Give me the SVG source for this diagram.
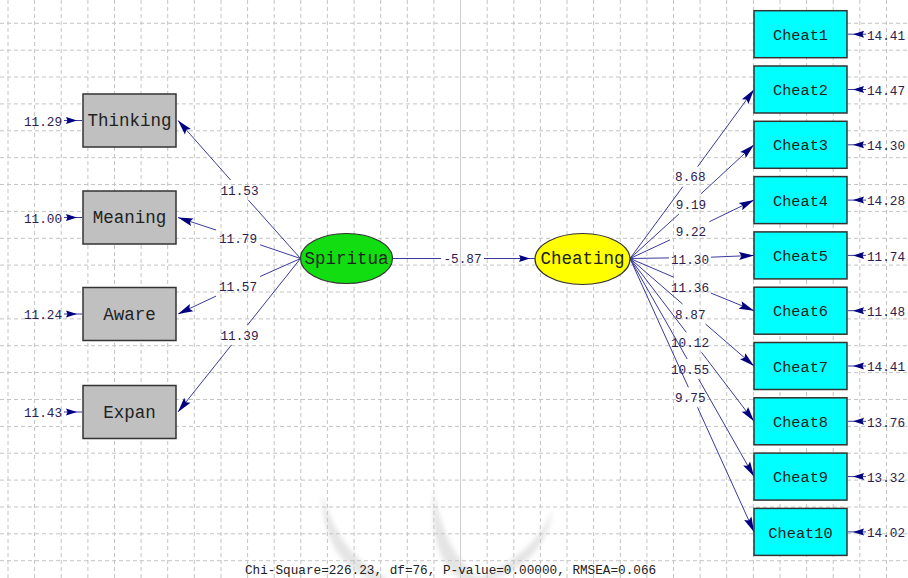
<svg xmlns="http://www.w3.org/2000/svg" width="908" height="578" viewBox="0 0 908 578">
<style>
.grid line{stroke:#c4c4c4;stroke-width:1;stroke-dasharray:4 3}
.grid line.solid{stroke-dasharray:none;stroke:#cfcfcf}
.obs rect{stroke:#333;stroke-width:1.5}
.left rect{fill:#c0c0c0}
.right rect{fill:#00ffff}
.lat ellipse{stroke:#333;stroke-width:1.2}
.nl{font-family:"Liberation Mono","Courier New",monospace;fill:#222;text-anchor:middle}
.big{font-size:17.5px}
.small{font-size:15.3px}
.num{font-family:"Liberation Mono","Courier New",monospace;font-size:12.7px;fill:#2c2050}
.conn line,.conn path{stroke:#3a3a9e;stroke-width:1;fill:none}
</style>
<defs>
<marker id="ah" markerUnits="userSpaceOnUse" markerWidth="16" markerHeight="10" refX="15" refY="4" orient="auto" overflow="visible">
<path d="M0,0 L15,4 L0,8 L2.5,4 Z" fill="#000080"/>
</marker>
<marker id="as" markerUnits="userSpaceOnUse" markerWidth="20" markerHeight="10" refX="16" refY="3.5" orient="auto" overflow="visible">
<path d="M0,0 L11,3.5 L0,7 L1.5,3.5 Z" fill="#000080"/>
</marker>
<filter id="blur" x="-20%" y="-20%" width="140%" height="140%"><feGaussianBlur stdDeviation="2.5"/></filter>
</defs>
<rect width="908" height="578" fill="#ffffff"/>
<g id="watermark" fill="#d9d9d9" opacity="0.7" filter="url(#blur)">
<path d="M322,493 Q323,560 372,580 L390,580 Q338,555 322,493 Z"/>
<path d="M434,490 Q428,560 462,580 L482,580 Q444,555 434,490 Z"/>
<path d="M553,508 Q546,562 490,580 L472,580 Q536,555 553,508 Z"/>
</g>
<g class="grid">
<line x1="8" y1="0" x2="8" y2="578"/><line x1="34.6" y1="0" x2="34.6" y2="578"/><line x1="61.2" y1="0" x2="61.2" y2="578"/><line x1="87.9" y1="0" x2="87.9" y2="578"/><line x1="114.5" y1="0" x2="114.5" y2="578"/><line x1="141.1" y1="0" x2="141.1" y2="578"/><line x1="167.7" y1="0" x2="167.7" y2="578"/><line x1="194.3" y1="0" x2="194.3" y2="578"/><line x1="221" y1="0" x2="221" y2="578"/><line x1="247.6" y1="0" x2="247.6" y2="578"/><line x1="274.2" y1="0" x2="274.2" y2="578"/><line x1="300.8" y1="0" x2="300.8" y2="578"/><line x1="327.4" y1="0" x2="327.4" y2="578"/><line x1="354.1" y1="0" x2="354.1" y2="578"/><line x1="380.7" y1="0" x2="380.7" y2="578"/><line x1="407.3" y1="0" x2="407.3" y2="578"/><line x1="433.9" y1="0" x2="433.9" y2="578"/><line class="solid" x1="460.5" y1="0" x2="460.5" y2="578"/><line x1="487.2" y1="0" x2="487.2" y2="578"/><line x1="513.8" y1="0" x2="513.8" y2="578"/><line x1="540.4" y1="0" x2="540.4" y2="578"/><line x1="567" y1="0" x2="567" y2="578"/><line x1="593.6" y1="0" x2="593.6" y2="578"/><line x1="620.3" y1="0" x2="620.3" y2="578"/><line x1="646.9" y1="0" x2="646.9" y2="578"/><line x1="673.5" y1="0" x2="673.5" y2="578"/><line x1="700.1" y1="0" x2="700.1" y2="578"/><line x1="726.7" y1="0" x2="726.7" y2="578"/><line x1="753.4" y1="0" x2="753.4" y2="578"/><line x1="780" y1="0" x2="780" y2="578"/><line x1="806.6" y1="0" x2="806.6" y2="578"/><line x1="833.2" y1="0" x2="833.2" y2="578"/><line x1="859.8" y1="0" x2="859.8" y2="578"/><line x1="886.5" y1="0" x2="886.5" y2="578"/>
<line x1="0" y1="23.3" x2="908" y2="23.3"/><line x1="0" y1="50.2" x2="908" y2="50.2"/><line x1="0" y1="77" x2="908" y2="77"/><line x1="0" y1="103.9" x2="908" y2="103.9"/><line x1="0" y1="130.8" x2="908" y2="130.8"/><line x1="0" y1="157.7" x2="908" y2="157.7"/><line x1="0" y1="184.5" x2="908" y2="184.5"/><line x1="0" y1="211.4" x2="908" y2="211.4"/><line x1="0" y1="238.3" x2="908" y2="238.3"/><line x1="0" y1="265.1" x2="908" y2="265.1"/><line x1="0" y1="292" x2="908" y2="292"/><line x1="0" y1="318.9" x2="908" y2="318.9"/><line x1="0" y1="345.7" x2="908" y2="345.7"/><line x1="0" y1="372.6" x2="908" y2="372.6"/><line x1="0" y1="399.5" x2="908" y2="399.5"/><line x1="0" y1="426.4" x2="908" y2="426.4"/><line x1="0" y1="453.2" x2="908" y2="453.2"/><line x1="0" y1="480.1" x2="908" y2="480.1"/><line x1="0" y1="507" x2="908" y2="507"/><line x1="0" y1="533.8" x2="908" y2="533.8"/><line x1="0" y1="560.7" x2="908" y2="560.7"/>
</g>
<g id="connectors" class="conn">
<line x1="300.5" y1="258.5" x2="248.4" y2="200.1"/><line x1="230.6" y1="180" x2="178" y2="120.5" marker-end="url(#ah)"/>
<line x1="300.5" y1="258.5" x2="260.1" y2="244.8"/><line x1="216" y1="230" x2="178" y2="217.5" marker-end="url(#ah)"/>
<line x1="300.5" y1="258.5" x2="260.1" y2="276.5"/><line x1="216" y1="296.1" x2="178" y2="314" marker-end="url(#ah)"/>
<line x1="300.5" y1="258.5" x2="247.5" y2="325"/><line x1="231.5" y1="344.9" x2="178" y2="412" marker-end="url(#ah)"/>
<line x1="392.5" y1="258.5" x2="441" y2="258.5"/><line x1="484" y1="258.5" x2="535" y2="258.5" marker-end="url(#as)"/>
<line x1="630" y1="258.5" x2="682.8" y2="186.7"/><line x1="697.6" y1="166.7" x2="754" y2="89.5" marker-end="url(#ah)"/>
<line x1="630" y1="258.5" x2="678.9" y2="214"/><line x1="700.8" y1="194" x2="754" y2="144.8" marker-end="url(#ah)"/>
<line x1="630" y1="258.5" x2="670" y2="239.9"/><line x1="709.4" y1="221.7" x2="754" y2="200.1" marker-end="url(#ah)"/>
<line x1="630" y1="258.5" x2="669" y2="257.9"/><line x1="711" y1="257.2" x2="754" y2="255.4" marker-end="url(#ah)"/>
<line x1="630" y1="258.5" x2="674" y2="277.3"/><line x1="711" y1="293.1" x2="754" y2="310.7" marker-end="url(#ah)"/>
<line x1="630" y1="258.5" x2="682.5" y2="304"/><line x1="705.5" y1="324" x2="754" y2="366" marker-end="url(#ah)"/>
<line x1="630" y1="258.5" x2="686.3" y2="332.3"/><line x1="701.5" y1="352.3" x2="754" y2="421.3" marker-end="url(#ah)"/>
<line x1="630" y1="258.5" x2="687.2" y2="359"/><line x1="698.6" y1="379" x2="754" y2="476.6" marker-end="url(#ah)"/>
<line x1="630" y1="258.5" x2="688.4" y2="387.3"/><line x1="697.5" y1="407.3" x2="754" y2="531.9" marker-end="url(#ah)"/>
<line x1="64" y1="120.5" x2="82" y2="120.5" marker-end="url(#as)"/>
<line x1="64" y1="217.5" x2="82" y2="217.5" marker-end="url(#as)"/>
<line x1="64" y1="314" x2="82" y2="314" marker-end="url(#as)"/>
<line x1="64" y1="412" x2="82" y2="412" marker-end="url(#as)"/>
<line x1="866" y1="34.2" x2="848" y2="34.2" marker-end="url(#as)"/>
<line x1="866" y1="89.5" x2="848" y2="89.5" marker-end="url(#as)"/>
<line x1="866" y1="144.8" x2="848" y2="144.8" marker-end="url(#as)"/>
<line x1="866" y1="200.1" x2="848" y2="200.1" marker-end="url(#as)"/>
<line x1="866" y1="255.4" x2="848" y2="255.4" marker-end="url(#as)"/>
<line x1="866" y1="310.7" x2="848" y2="310.7" marker-end="url(#as)"/>
<line x1="866" y1="366" x2="848" y2="366" marker-end="url(#as)"/>
<line x1="866" y1="421.3" x2="848" y2="421.3" marker-end="url(#as)"/>
<line x1="866" y1="476.6" x2="848" y2="476.6" marker-end="url(#as)"/>
<line x1="866" y1="531.9" x2="848" y2="531.9" marker-end="url(#as)"/>
</g>
<g id="path-labels" class="num" text-anchor="middle">
<text x="239.5" y="194.5">11.53</text>
<text x="238" y="242.5">11.79</text>
<text x="238" y="291">11.57</text>
<text x="239.5" y="339.5">11.39</text>
<text x="462.5" y="263">-5.87</text>
<text x="690.3" y="181.2">8.68</text>
<text x="691" y="208.5">9.19</text>
<text x="691" y="236.2">9.22</text>
<text x="690" y="263.5">11.30</text>
<text x="690" y="291.8">11.36</text>
<text x="690.3" y="318.5">8.87</text>
<text x="690" y="346.8">10.12</text>
<text x="690" y="373.5">10.55</text>
<text x="690.3" y="401.8">9.75</text>
</g>
<g id="error-labels" class="num">
<text x="62" y="125.5" text-anchor="end">11.29</text>
<text x="62" y="222.5" text-anchor="end">11.00</text>
<text x="62" y="319" text-anchor="end">11.24</text>
<text x="62" y="417" text-anchor="end">11.43</text>
<text x="867" y="39.5">14.41</text>
<text x="867" y="94.8">14.47</text>
<text x="867" y="150.1">14.30</text>
<text x="867" y="205.4">14.28</text>
<text x="867" y="260.7">11.74</text>
<text x="867" y="316">11.48</text>
<text x="867" y="371.3">14.41</text>
<text x="867" y="426.6">13.76</text>
<text x="867" y="481.9">13.32</text>
<text x="867" y="537.2">14.02</text>
</g>
<g id="Thinking" class="obs left"><rect x="83" y="94" width="93" height="53"/><text class="nl big" x="129.5" y="126">Thinking</text></g>
<g id="Meaning" class="obs left"><rect x="83" y="191" width="93" height="53"/><text class="nl big" x="129.5" y="223">Meaning</text></g>
<g id="Aware" class="obs left"><rect x="83" y="287.5" width="93" height="53"/><text class="nl big" x="129.5" y="319.5">Aware</text></g>
<g id="Expan" class="obs left"><rect x="83" y="385.5" width="93" height="53"/><text class="nl big" x="129.5" y="417.5">Expan</text></g>
<g id="Spiritua" class="lat"><ellipse cx="346.5" cy="258.5" rx="46" ry="25" fill="#11dd11"/><text class="nl big" x="346.5" y="263.5">Spiritua</text></g>
<g id="Cheating" class="lat"><ellipse cx="582.5" cy="259" rx="47.5" ry="25.5" fill="#ffff00"/><text class="nl big" x="582.5" y="264">Cheating</text></g>
<g id="Cheat1" class="obs right"><rect x="754" y="10.7" width="93" height="47"/><text class="nl small" x="800.5" y="39.8">Cheat1</text></g>
<g id="Cheat2" class="obs right"><rect x="754" y="66" width="93" height="47"/><text class="nl small" x="800.5" y="95.1">Cheat2</text></g>
<g id="Cheat3" class="obs right"><rect x="754" y="121.3" width="93" height="47"/><text class="nl small" x="800.5" y="150.4">Cheat3</text></g>
<g id="Cheat4" class="obs right"><rect x="754" y="176.6" width="93" height="47"/><text class="nl small" x="800.5" y="205.7">Cheat4</text></g>
<g id="Cheat5" class="obs right"><rect x="754" y="231.9" width="93" height="47"/><text class="nl small" x="800.5" y="261">Cheat5</text></g>
<g id="Cheat6" class="obs right"><rect x="754" y="287.2" width="93" height="47"/><text class="nl small" x="800.5" y="316.3">Cheat6</text></g>
<g id="Cheat7" class="obs right"><rect x="754" y="342.5" width="93" height="47"/><text class="nl small" x="800.5" y="371.6">Cheat7</text></g>
<g id="Cheat8" class="obs right"><rect x="754" y="397.8" width="93" height="47"/><text class="nl small" x="800.5" y="426.9">Cheat8</text></g>
<g id="Cheat9" class="obs right"><rect x="754" y="453.1" width="93" height="47"/><text class="nl small" x="800.5" y="482.2">Cheat9</text></g>
<g id="Cheat10" class="obs right"><rect x="754" y="508.4" width="93" height="47"/><text class="nl small" x="800.5" y="537.5">Cheat10</text></g>
<text class="num" x="245" y="574" style="fill:#222">Chi-Square=226.23, df=76, P-value=0.00000, RMSEA=0.066</text>
</svg>
